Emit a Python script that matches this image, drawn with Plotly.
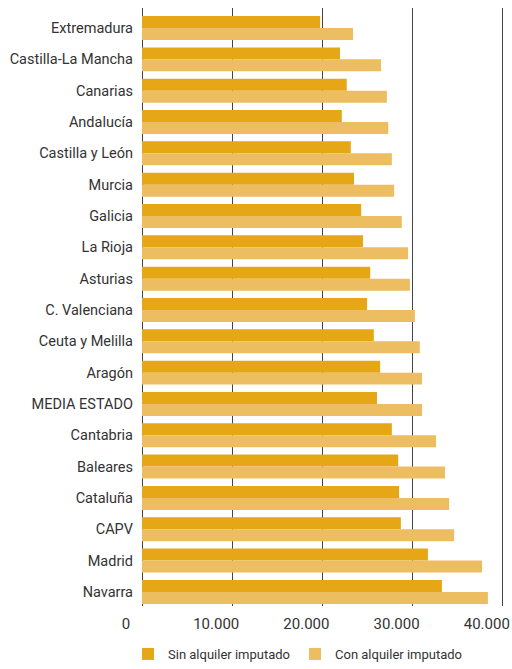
import plotly.graph_objects as go

# Regions, top to bottom
regions = [
    "Extremadura", "Castilla-La Mancha", "Canarias", "Andalucía",
    "Castilla y León", "Murcia", "Galicia", "La Rioja", "Asturias",
    "C. Valenciana", "Ceuta y Melilla", "Aragón", "MEDIA ESTADO",
    "Cantabria", "Baleares", "Cataluña", "CAPV", "Madrid", "Navarra",
]

# Income without imputed rent
sin_alquiler = [
    19750, 21950, 22700, 22150, 23150, 23500, 24300, 24500, 25300,
    24950, 25700, 26400, 26050, 27700, 28400, 28500, 28700, 31700, 33250,
]

# Income with imputed rent
con_alquiler = [
    23400, 26500, 27150, 27300, 27700, 27950, 28800, 29500, 29700,
    30250, 30800, 31050, 31050, 32600, 33600, 34050, 34600, 37700, 38350,
]

x_ticks = [0, 10000, 20000, 30000, 40000]
x_tick_text = ["0", "10.000", "20.000", "30.000", "40.000"]

DARK = "#E5A716"
LIGHT = "#EDBD62"
TEXT = "#333333"
FONT = "Roboto"

fig = go.Figure()
fig.add_trace(go.Bar(
    y=regions, x=sin_alquiler, orientation="h",
    name="Sin alquiler imputado", marker=dict(color=DARK, line=dict(width=0)),
))
fig.add_trace(go.Bar(
    y=regions, x=con_alquiler, orientation="h",
    name="Con alquiler imputado", marker=dict(color=LIGHT, line=dict(width=0)),
))

fig.update_layout(
    width=512, height=669,
    margin=dict(l=142, r=8, t=8, b=63, autoexpand=False),
    paper_bgcolor="white", plot_bgcolor="white",
    barmode="group", bargap=0.234, bargroupgap=0,
    font=dict(family=FONT, size=15, color=TEXT),
    xaxis=dict(
        range=[0, 40133], tickvals=x_ticks, ticktext=x_tick_text,
        showgrid=True, gridcolor="#444444", gridwidth=1,
        zeroline=True, zerolinecolor="#444444", zerolinewidth=1,
        showline=False, ticks="", ticklabelshift=-16, ticklabelstandoff=7,
        ticklabeloverflow="allow",
        tickfont=dict(family=FONT, size=15, color=TEXT),
    ),
    yaxis=dict(
        range=[18.45, -0.64], showgrid=False, zeroline=False,
        showline=False, ticks="", ticklabelstandoff=8,
        tickfont=dict(family=FONT, size=14.5, color=TEXT),
    ),
    legend=dict(
        orientation="h", xref="container", yref="container",
        x=0.25, y=-0.011, xanchor="left", yanchor="bottom",
        font=dict(family=FONT, size=13, color=TEXT),
        itemclick=False,
    ),
)

fig.write_html("out.html")
